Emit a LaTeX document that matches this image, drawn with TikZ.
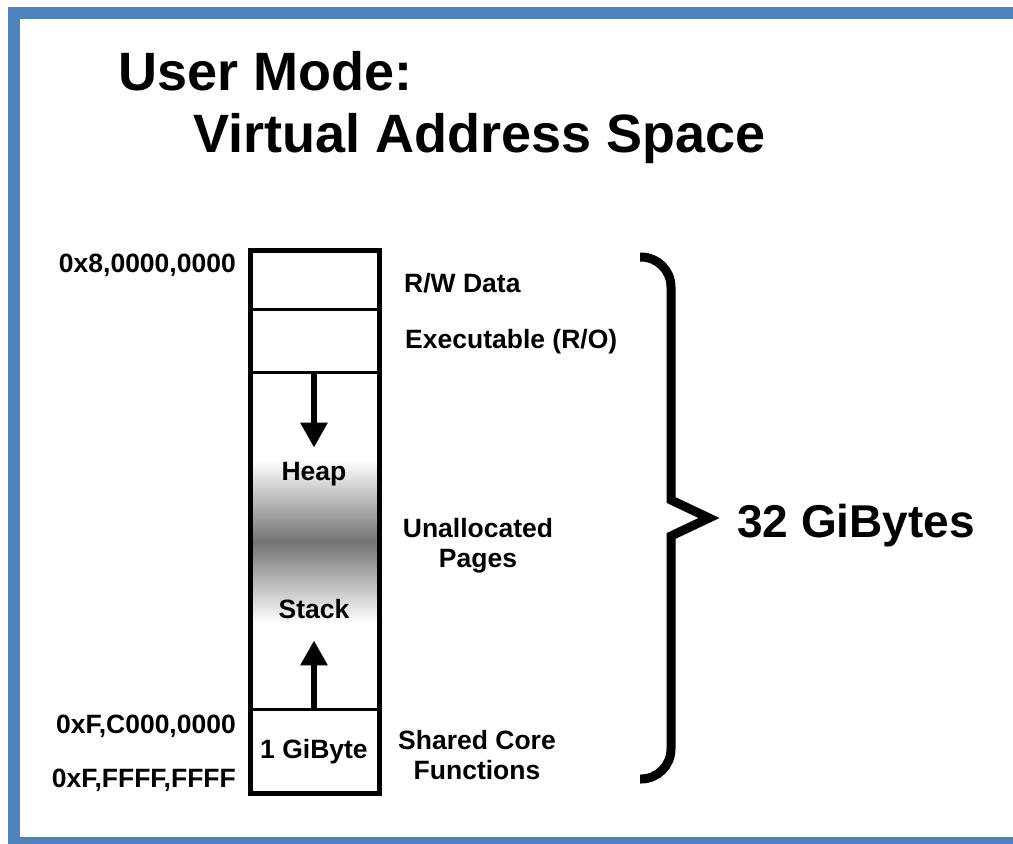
\documentclass[tikz,border=0pt]{standalone}
\usepackage{fontspec}
\setmainfont{Liberation Sans}
\usetikzlibrary{arrows.meta}
\definecolor{framecol}{HTML}{4F81BD}

\begin{document}
\begin{tikzpicture}[x=1pt,y=-1pt,
		lbl/.style={font=\fontsize{26.5}{30}\selectfont\bfseries, align=center, inner sep=0},
		ttl/.style={font=\fontsize{54}{62}\selectfont\bfseries, inner sep=0, anchor=base west},
		growarrow/.style={line width=6pt, -{Triangle[width=26pt,length=25pt]}},
		divider/.style={line width=3pt}]

		\useasboundingbox (0,0) rectangle (1013,844);
		\draw[framecol, line width=12pt] (14,13) rectangle (1030,843);

		\node[ttl] (t1) at (118,90) {User Mode:};
		\node[ttl] (t2) at (193,152) {Virtual Address Space};

		\shade[top color=white, bottom color=white, middle color=black!55] (252,460) rectangle (377,623);
		\node[draw, line width=5pt, minimum width=129pt, minimum height=543pt, inner sep=0] (mem) at (314.5,521.5) {};

		\coordinate (d1) at (314,309);
		\coordinate (d2) at (314,372);
		\coordinate (d3) at (314,709);
		\draw[divider] (d1 -| mem.west) -- (d1 -| mem.east);
		\draw[divider] (d2 -| mem.west) -- (d2 -| mem.east);
		\draw[divider] (d3 -| mem.west) -- (d3 -| mem.east);

		\node[lbl, anchor=base] (heap) at (314,480) {Heap};
		\node[lbl, anchor=base] (stack) at (314,618) {Stack};
		\node[lbl, anchor=base] (gib) at (314,758) {1 GiByte};

		\draw[growarrow, shorten >=14pt] (d2) -- (heap.north);
		\draw[growarrow, shorten >=22pt] (d3) -- (stack.south);

		\node[lbl, anchor=base east] (a0) at (236,272) {0x8,0000,0000};
		\node[lbl, anchor=base east] (a1) at (236,733) {0xF,C000,0000};
		\node[lbl, anchor=base east] (a2) at (236,787) {0xF,FFFF,FFFF};

		\node[lbl, anchor=base west] (rw) at (404,292) {R/W Data};
		\node[lbl, anchor=base west] (exe) at (405,348) {Executable (R/O)};
		\node[lbl] (free) at (478,546) {Unallocated\\Pages};
		\node[lbl] (core) at (477,755) {Shared Core\\Functions};

		\draw[line width=9pt] (640,257) [rounded corners=30pt] -| (671,400) [sharp corners] -- (671,500) -- (709,518) -- (671,536) -- (671,700) [rounded corners=30pt] |- (640,779);
		\node[font=\fontsize{46}{50}\selectfont\bfseries, anchor=base west, inner sep=0] (total) at (737,537) {32 GiBytes};
	\end{tikzpicture}
\end{document}
